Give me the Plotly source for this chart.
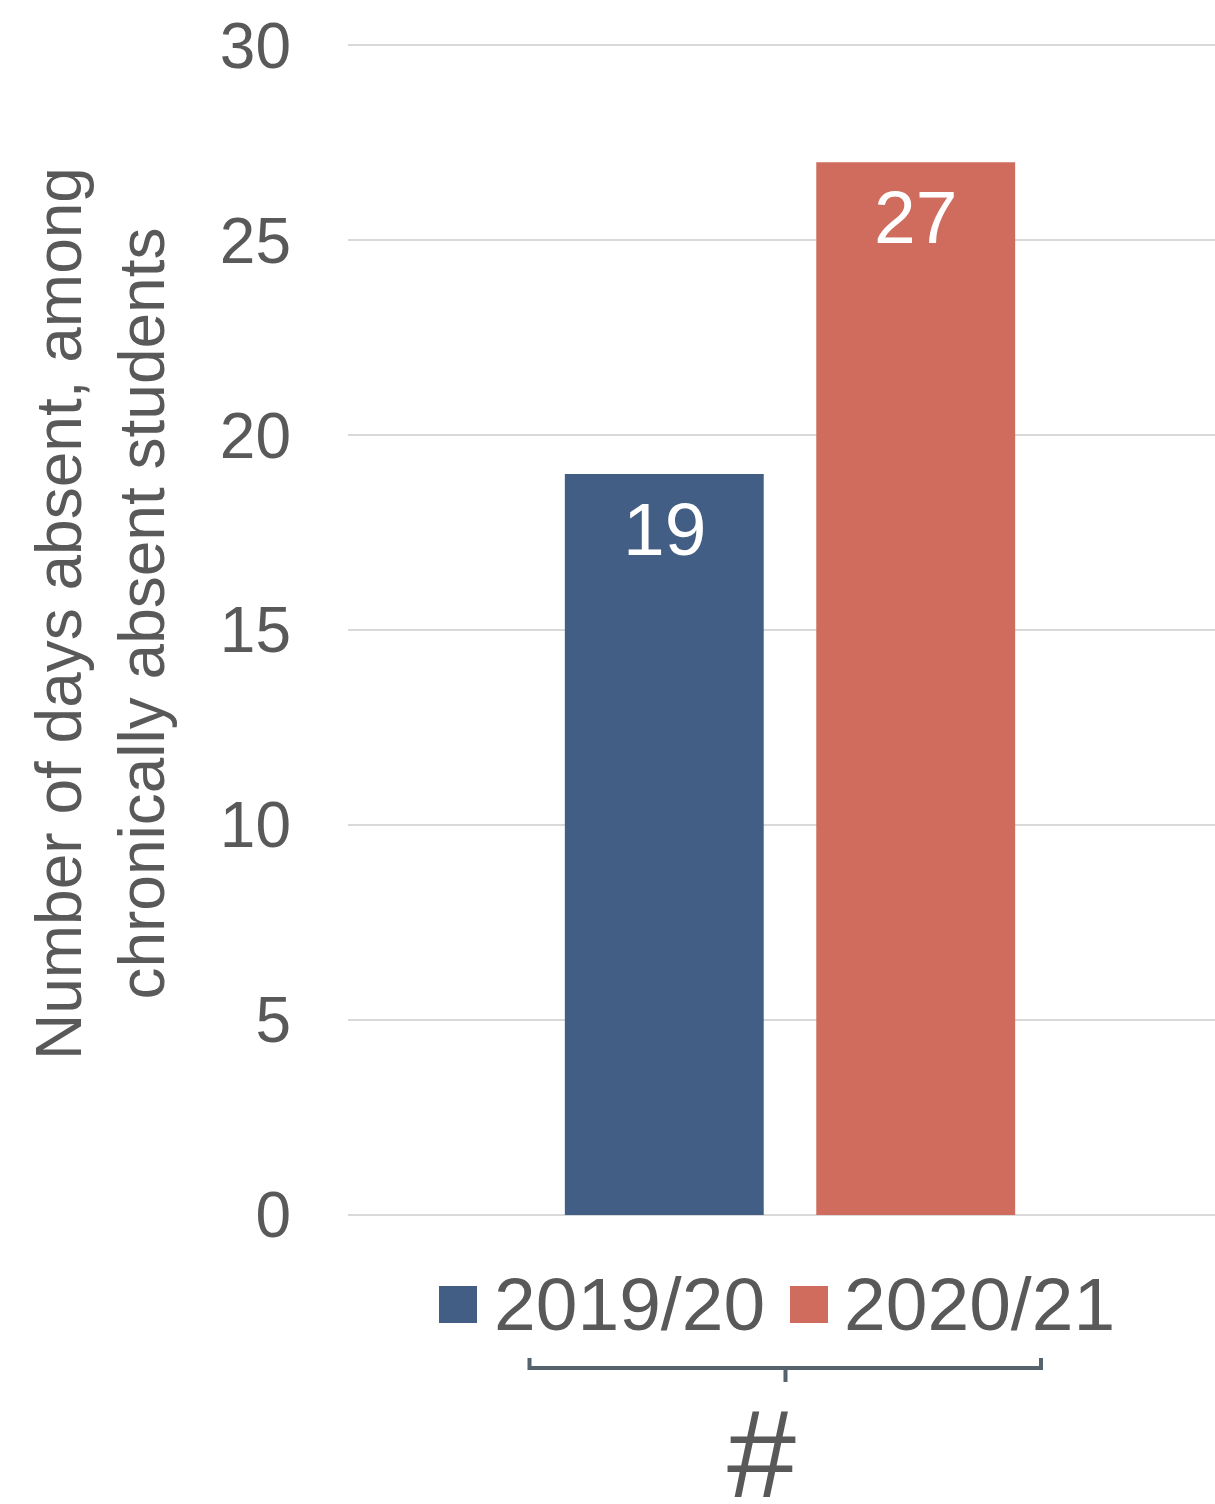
import plotly.graph_objects as go

# ---- data ----
category = ["#"]
series_names = ["2019/20", "2020/21"]
series_values = [[19], [27]]
series_colors = ["#425E85", "#D06C5D"]
y_ticks = [0, 5, 10, 15, 20, 25, 30]
y_title = "Number of days absent, among<br>chronically absent students"

W, H = 1215, 1504
ML, MR, MT, MB = 348, 0, 44, 289
PW = W - ML - MR
PH = H - MT - MB
FONT = "Liberation Sans, Arial, sans-serif"
GRAY = "#595959"

BARGAP = 0.42
BARGROUPGAP = 0.209
group_center_px = 790
x0 = -(group_center_px - ML) / PW
xrange = [x0, x0 + 1]
yrange = [0, 30.03]


def px_x(px):
    return (px - ML) / PW


def px_y(py):
    return (H - MB - py) / PH


fig = go.Figure()
for name, vals, col in zip(series_names, series_values, series_colors):
    fig.add_trace(go.Bar(x=category, y=vals, name=name, marker=dict(color=col, line=dict(width=0)),
                         showlegend=False))

slot = (1 - BARGAP) / len(series_names)
annotations = []
for i, (vals, col) in enumerate(zip(series_values, series_colors)):
    xc = -(1 - BARGAP) / 2 + slot * (i + 0.5)
    for v in vals:
        annotations.append(dict(x=xc, y=v, xref="x", yref="y", text=str(v), showarrow=False,
                                yanchor="middle", yshift=-55,
                                font=dict(family=FONT, size=75, color="white")))

# y-axis title
annotations.append(dict(x=px_x(101), y=px_y(614), xref="paper", yref="paper", text=y_title,
                        textangle=-90, showarrow=False, xanchor="center", yanchor="middle",
                        font=dict(family=FONT, size=64, color=GRAY)))

# manual legend
shapes = []
legend_items = [(439, 495), (790, 845)]
for (sx, tx), name, col in zip(legend_items, series_names, series_colors):
    shapes.append(dict(type="rect", xref="paper", yref="paper",
                       x0=px_x(sx), x1=px_x(sx + 38), y0=px_y(1286), y1=px_y(1323),
                       fillcolor=col, line=dict(width=0)))
    annotations.append(dict(x=px_x(tx - 3), y=px_y(1304), xref="paper", yref="paper", text=name,
                            showarrow=False, xanchor="left", yanchor="middle",
                            font=dict(family=FONT, size=75, color=GRAY)))

# bracket
bl, br, bc = px_x(529.5), px_x(1041), px_x(785.5)
yt, yh, yb = px_y(1358), px_y(1368), px_y(1382)
shapes.append(dict(type="path", xref="paper", yref="paper",
                   path=f"M {bl},{yt} L {bl},{yh} L {br},{yh} L {br},{yt} M {bc},{yh} L {bc},{yb}",
                   line=dict(color="#55636F", width=4)))

# category label
annotations.append(dict(x=px_x(761), y=px_y(1454), xref="paper", yref="paper", text=category[0],
                        showarrow=False, xanchor="center", yanchor="middle",
                        font=dict(family=FONT, size=124, color=GRAY)))

fig.update_layout(
    width=W, height=H,
    margin=dict(l=ML, r=MR, t=MT, b=MB, pad=0),
    paper_bgcolor="white", plot_bgcolor="white",
    barmode="group", bargap=BARGAP, bargroupgap=BARGROUPGAP,
    showlegend=False,
    annotations=annotations, shapes=shapes,
    font=dict(family=FONT, color=GRAY),
)
fig.update_xaxes(range=xrange, showticklabels=False, showgrid=False, zeroline=False,
                 showline=False, ticks="")
fig.update_yaxes(range=yrange, tickvals=y_ticks, showgrid=True, gridcolor="#D9D9D9", gridwidth=2,
                 zeroline=True, zerolinecolor="#D9D9D9", zerolinewidth=2, showline=False,
                 ticks="", ticklabelstandoff=56,
                 tickfont=dict(family=FONT, size=64, color=GRAY))

fig.write_html("out.html")
